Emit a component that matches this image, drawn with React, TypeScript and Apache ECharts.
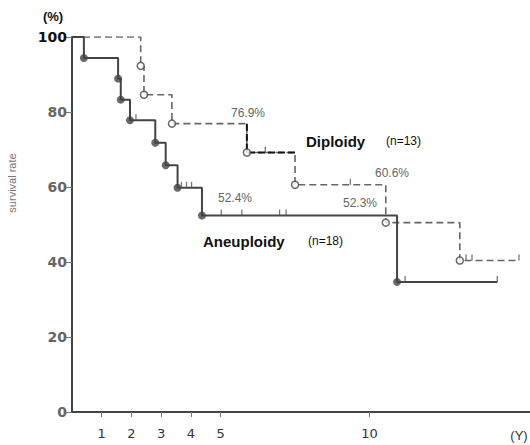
import React, { useEffect, useRef } from "react";
import * as echarts from "echarts";

// Aneuploidy (n=18) – Kaplan-Meier steps (years, % surviving)
const aneuTimes = [0, 0.4, 1.55, 1.64, 1.95, 2.8, 3.15, 3.55, 4.37, 10.93, 14.3];
const aneuSurv = [100, 94.4, 88.9, 83.3, 77.8, 71.8, 65.8, 59.8, 52.4, 34.7, 34.7];
const aneuCensorTimes = [2.15, 3.68, 3.85, 4.02, 5.02, 5.71, 6.98, 7.2, 11.2, 14.3];
const aneuCensorSurv = [77.8, 59.8, 59.8, 59.8, 52.4, 52.4, 52.4, 52.4, 34.7, 34.7];

// Diploidy (n=13)
const dipTimes = [0, 2.31, 2.42, 3.36, 5.88, 7.5, 10.55, 13.04, 15.03];
const dipSurv = [100, 92.3, 84.6, 76.9, 69.2, 60.6, 50.5, 40.4, 40.4];
const dipCensorTimes = [6.5, 9.36, 13.25, 13.45, 15.03];
const dipCensorSurv = [69.2, 60.6, 40.4, 40.4, 40.4];

const xTickValues = [1, 2, 3, 4, 5, 10];

export default function App() {
  const ref = useRef<HTMLDivElement>(null);
  useEffect(() => {
    if (!ref.current) return;
    const chart = echarts.init(ref.current, undefined, { renderer: "svg" });
    const font = "Liberation Sans";
    const aneuLine = aneuTimes.map((t, i) => [t, aneuSurv[i]]);
    const dipLine = dipTimes.map((t, i) => [t, dipSurv[i]]);
    const aneuDots = aneuTimes.slice(1, aneuTimes.length - 1).map((t, i) => [t, aneuSurv[i + 1]]);
    const dipDots = dipTimes.slice(1, dipTimes.length - 1).map((t, i) => [t, dipSurv[i + 1]]);
    const aneuCens = aneuCensorTimes.map((t, i) => [t, aneuCensorSurv[i]]);
    const dipCens = dipCensorTimes.map((t, i) => [t, dipCensorSurv[i]]);
    const overlay = [
      [dipTimes[4], dipSurv[3]],
      [dipTimes[4], dipSurv[4]],
      [dipTimes[5], dipSurv[4]],
    ];
    chart.setOption({
      animation: false,
      backgroundColor: "#fff",
      grid: { left: 72, right: 0, top: 37, bottom: 33 },
      xAxis: {
        type: "value",
        min: 0,
        max: 15.4,
        interval: 1,
        splitLine: { show: false },
        axisLine: { lineStyle: { color: "#444", width: 2 } },
        axisTick: {
          show: true,
          length: 5,
          customValues: xTickValues,
          lineStyle: { color: "#777", width: 1 },
        },
        axisLabel: {
          customValues: xTickValues,
          color: "#333",
          fontSize: 13,
          fontFamily: "DejaVu Sans",
          margin: 15,
        },
      },
      yAxis: {
        type: "value",
        min: 0,
        max: 100,
        interval: 20,
        splitLine: { show: false },
        axisLine: { show: true, lineStyle: { color: "#444", width: 2 } },
        axisTick: { show: true, length: 6, lineStyle: { color: "#777", width: 1 } },
        axisLabel: {
          margin: 5,
          formatter: (v: number) => (v === 100 ? "{b|100}" : "{n|" + v + "}"),
          rich: {
            b: { color: "#111", fontSize: 14, fontWeight: "bold", fontFamily: "DejaVu Sans" },
            n: { color: "#666", fontSize: 14, fontWeight: "bold", fontFamily: "DejaVu Sans" },
          },
        },
      },
      series: [
        {
          type: "line",
          data: dipLine,
          step: "end",
          symbol: "none",
          lineStyle: { color: "#666", width: 1.6, type: [7, 4] },
          z: 2,
        },
        {
          type: "line",
          data: overlay,
          symbol: "none",
          lineStyle: { color: "#111", width: 2, type: [7, 3] },
          z: 3,
        },
        {
          type: "line",
          data: aneuLine,
          step: "end",
          symbol: "none",
          lineStyle: { color: "#444", width: 2 },
          z: 4,
        },
        {
          type: "scatter",
          data: aneuDots,
          symbol: "circle",
          symbolSize: 8,
          itemStyle: { color: "#444" },
          z: 5,
        },
        {
          type: "scatter",
          data: dipDots,
          symbol: "circle",
          symbolSize: 7,
          itemStyle: { color: "#fff", borderColor: "#444", borderWidth: 1.5 },
          z: 6,
        },
        {
          type: "scatter",
          data: aneuCens,
          symbol: "rect",
          symbolSize: [1.3, 6],
          symbolOffset: [0, -3],
          itemStyle: { color: "#555" },
          z: 5,
        },
        {
          type: "scatter",
          data: dipCens,
          symbol: "rect",
          symbolSize: [1.3, 6],
          symbolOffset: [0, -3],
          itemStyle: { color: "#555" },
          z: 5,
        },
      ],
      graphic: [
        { type: "text", x: 53, y: 16, style: { text: "(%)", fontSize: 13, fontWeight: "bold", fill: "#111", fontFamily: font, align: "center", verticalAlign: "middle" } },
        { type: "text", x: 12, y: 183, rotation: Math.PI / 2, style: { text: "survival rate", fontSize: 11, fill: "#777", fontFamily: font, align: "center", verticalAlign: "middle" } },
        { type: "text", x: 519, y: 435, style: { text: "(Y)", fontSize: 13, fill: "#333", fontFamily: font, align: "center", verticalAlign: "middle" } },
        { type: "text", x: 248, y: 113, style: { text: "76.9%", fontSize: 12, fill: "#666", fontFamily: font, align: "center", verticalAlign: "middle" } },
        { type: "text", x: 392, y: 173, style: { text: "60.6%", fontSize: 12, fill: "#666", fontFamily: font, align: "center", verticalAlign: "middle" } },
        { type: "text", x: 360, y: 203, style: { text: "52.3%", fontSize: 12, fill: "#666", fontFamily: font, align: "center", verticalAlign: "middle" } },
        { type: "text", x: 235, y: 198, style: { text: "52.4%", fontSize: 12, fill: "#666", fontFamily: font, align: "center", verticalAlign: "middle" } },
        { type: "text", x: 306, y: 141, style: { text: "Diploidy", fontSize: 15, fontWeight: "bold", fill: "#111", fontFamily: font, align: "left", verticalAlign: "middle" } },
        { type: "text", x: 386, y: 141, style: { text: "(n=13)", fontSize: 12, fill: "#111", fontFamily: font, align: "left", verticalAlign: "middle" } },
        { type: "text", x: 203, y: 241, style: { text: "Aneuploidy", fontSize: 15, fontWeight: "bold", fill: "#111", fontFamily: font, align: "left", verticalAlign: "middle" } },
        { type: "text", x: 308, y: 241, style: { text: "(n=18)", fontSize: 12, fill: "#111", fontFamily: font, align: "left", verticalAlign: "middle" } },
      ],
    });
    return () => chart.dispose();
  }, []);
  return (
    <div
      ref={ref}
      style={{ position: "fixed", left: 0, top: 0, width: 530, height: 445 }}
    />
  );
}
